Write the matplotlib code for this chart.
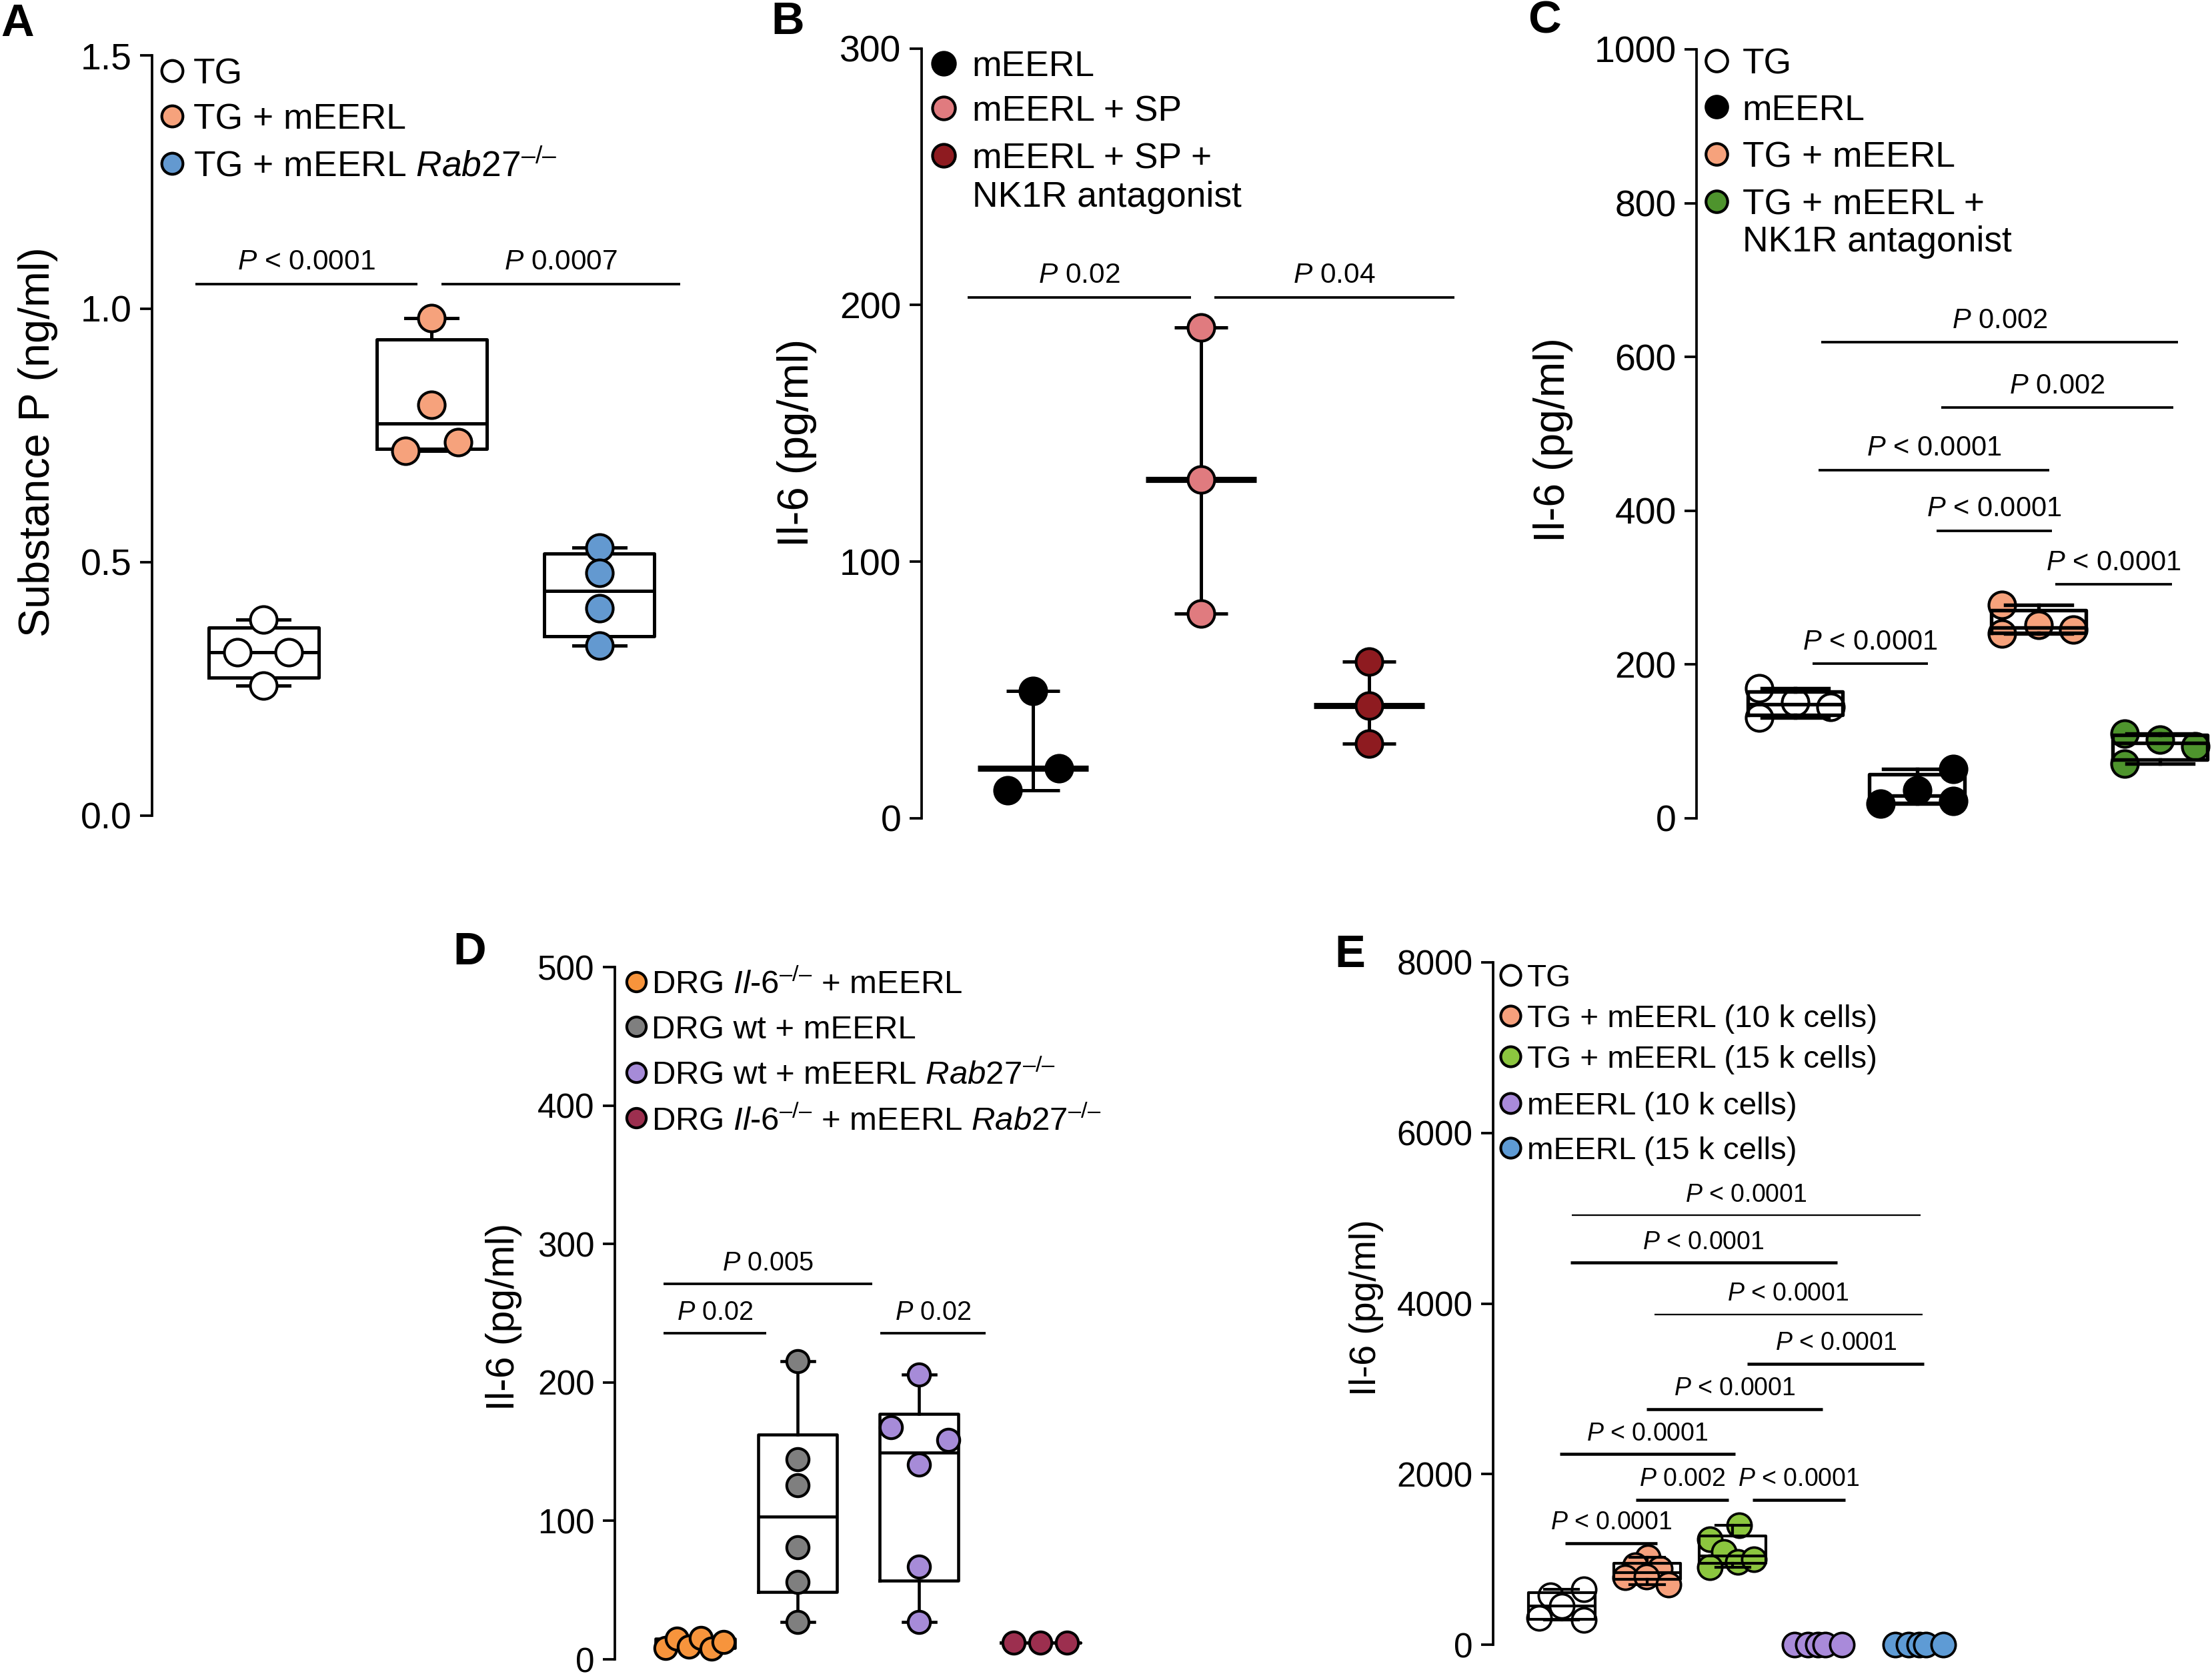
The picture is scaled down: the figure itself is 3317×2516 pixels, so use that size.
import matplotlib
matplotlib.use("Agg")
import matplotlib.pyplot as plt
import numpy as np

plt.rcParams["font.family"] = ["Liberation Sans", "DejaVu Sans"]
plt.rcParams["mathtext.fontset"] = "custom"
plt.rcParams["mathtext.rm"] = "Liberation Sans"
plt.rcParams["mathtext.it"] = "Liberation Sans:italic"
plt.rcParams["mathtext.bf"] = "Liberation Sans:bold"

W, H = 3317, 2516  # output size in pixels (dpi 300)
KO = "^{\u2013/\u2013}"  # knockout superscript

# ---------------- data ----------------
# A: substance P (ng/ml)
a_names = ["TG", "TG + mEERL", "TG + mEERL $\\it{Rab27}" + KO + "$"]
a_colors = ["white", "#F6A27C", "#6399D0"]
a_values = [
    [0.387, 0.322, 0.322, 0.256],
    [0.982, 0.810, 0.720, 0.736],
    [0.529, 0.478, 0.409, 0.335],
]

# B: Il-6 (pg/ml), median with range
b_names = ["mEERL", "mEERL + SP", "mEERL + SP +\nNK1R antagonist"]
b_colors = ["black", "#E07B7F", "#8E1B20"]
b_values = [
    [49.6, 19.4, 10.8],
    [191.2, 131.9, 79.7],
    [61.0, 43.8, 29.1],
]

# C: Il-6 (pg/ml)
c_names = ["TG", "mEERL", "TG + mEERL", "TG + mEERL +\nNK1R antagonist"]
c_colors = ["white", "black", "#F6A27C", "#4E942D"]
c_values = [
    [169, 151, 145, 131],
    [19, 36, 64, 22],
    [277, 251, 245, 240],
    [110, 102, 93, 71],
]

# D: Il-6 (pg/ml)
d_names = ["DRG $\\it{Il}$-$\\it{6}" + KO + "$ + mEERL", "DRG wt + mEERL",
           "DRG wt + mEERL $\\it{Rab27}" + KO + "$",
           "DRG $\\it{Il}$-$\\it{6}" + KO + "$ + mEERL $\\it{Rab27}" + KO + "$"]
d_colors = ["#F7943C", "#7F7F7F", "#A68BD8", "#9C2F4F"]
d_values = [
    [8.3, 14.7, 9.1, 15.5, 7.5, 12.3],
    [215.2, 144.6, 125.7, 80.9, 56.1, 26.9],
    [205.9, 167.7, 158.4, 140.5, 67.1, 26.9],
    [12, 12, 12],
]

# E: Il-6 (pg/ml)
e_names = ["TG", "TG + mEERL (10 k cells)", "TG + mEERL (15 k cells)",
           "mEERL (10 k cells)", "mEERL (15 k cells)"]
e_colors = ["white", "#F6A07C", "#8CC63F", "#A98ADA", "#5E9BD5"]
e_values = [
    [581, 646, 451, 313, 287],
    [1024, 933, 894, 790, 798, 704],
    [1402, 1233, 1089, 971, 998, 907],
    [0, 0, 0, 0, 0],
    [0, 0, 0, 0, 0],
]

# comparison bars: (x from, x to, height, label)
a_pvals = [(-0.407, 0.916, 1.049, "< 0.0001"), (1.059, 2.48, 1.049, "0.0007")]
b_pvals = [(-0.39, 0.94, 203, "0.02"), (1.08, 2.51, 203, "0.04")]
c_pvals = [(0.21, 3.15, 619, "0.002"), (1.20, 3.11, 534, "0.002"),
           (0.19, 2.09, 453, "< 0.0001"), (1.16, 2.11, 374, "< 0.0001"),
           (2.14, 3.10, 304, "< 0.0001"), (0.14, 1.09, 201, "< 0.0001")]
d_pvals = [(-0.103, 1.613, 271, "0.005"), (-0.103, 0.739, 235.5, "0.02"),
           (1.678, 2.548, 235.5, "0.02")]
e_pvals = [(0.117, 4.198, 5036, "< 0.0001"), (0.104, 3.219, 4480, "< 0.0001"),
           (1.084, 4.218, 3874, "< 0.0001"), (2.174, 4.237, 3295, "< 0.0001"),
           (0.993, 3.050, 2762, "< 0.0001"), (-0.019, 2.031, 2234, "< 0.0001"),
           (0.867, 1.95, 1700, "0.002"), (2.23, 3.32, 1700, "< 0.0001"),
           (0.045, 1.12, 1190, "< 0.0001")]
e_thin = [0, 2]  # bars drawn with a hairline in E


# ---------------- helpers ----------------
def axes_px(fig, x0, x1, ytop, ybot):
    return fig.add_axes([x0 / W, 1 - ybot / H, (x1 - x0) / W, (ybot - ytop) / H])


def style(ax, xlim, ymax, step, fmt, tick_fs, ylabel, label_fs, label_xy):
    ax.set_xlim(*xlim)
    ax.set_ylim(0, ymax)
    for s in ["top", "right", "bottom"]:
        ax.spines[s].set_visible(False)
    ax.spines["left"].set_linewidth(0.9)
    ax.set_xticks([])
    ticks = np.arange(0, ymax + step / 2, step)
    ax.set_yticks(ticks)
    ax.set_yticklabels([fmt.format(t) for t in ticks])
    ax.tick_params(axis="y", length=4.3, width=0.9, pad=3, labelsize=tick_fs)
    ax.set_ylabel(ylabel, fontsize=label_fs, va="center")
    ax.yaxis.set_label_coords(*label_xy)
    ax.patch.set_visible(False)


def boxes(ax, groups, pos, width, capw, lw, z):
    stats = []
    for v in groups:
        q1, med, q3 = np.percentile(v, [25, 50, 75], method="weibull")
        stats.append(dict(med=med, q1=q1, q3=q3, whislo=min(v), whishi=max(v), fliers=[]))
    line = dict(color="black", linewidth=lw)
    ax.bxp(stats, positions=pos, widths=width, capwidths=capw, showfliers=False,
           boxprops=line, whiskerprops=line, capprops=line, medianprops=line,
           manage_ticks=False, zorder=z)


def dots(ax, vals, pos, offs, color, ms, z=3, mew=1.0):
    x = pos + np.asarray(offs, dtype=float)
    ax.plot(x, vals, "o", ms=ms, mfc=color, mec="black", mew=mew, ls="none",
            zorder=z, clip_on=False)


def pbars(ax, bars, fs, lw=0.9, thin=()):
    for i, (x0, x1, y, txt) in enumerate(bars):
        ax.plot([x0, x1], [y, y], color="black", lw=0.55 if i in thin else lw,
                solid_capstyle="butt", clip_on=False)
        ax.annotate(r"$\it{P}$ " + txt, ((x0 + x1) / 2, y), xytext=(0, 3),
                    textcoords="offset points", ha="center", va="bottom", fontsize=fs)


def key(ax, names, colors, xm, xt, ys, ms, fs, line_dy=0.05):
    for name, color, y in zip(names, colors, ys):
        ax.plot([xm], [y], "o", transform=ax.transAxes, ms=ms, mfc=color,
                mec="black", mew=1.0, clip_on=False)
        for i, line in enumerate(name.split("\n")):
            ax.text(xt, y - i * line_dy, line, transform=ax.transAxes,
                    fontsize=fs, ha="left", va="center_baseline")


fig = plt.figure(figsize=(W / 300, H / 300), dpi=300)

# ---------------- A ----------------
ax = axes_px(fig, 228, 1050, 83, 1222.6)
style(ax, (-0.665, 2.6), 1.5, 0.5, "{:.1f}", 13.3, "Substance P (ng/ml)", 15.5, (-0.208, 0.491))
a_pos = [0, 1, 2]
a_offs = [[0, -0.157, 0.151, 0], [0, 0, -0.154, 0.157], [0, 0, 0, 0]]
boxes(ax, a_values, a_pos, 0.655, 0.31, 1.2, 2)
for v, p, o, c in zip(a_values, a_pos, a_offs, a_colors):
    dots(ax, v, p, o, c, 9.6)
pbars(ax, a_pvals, 10.2)
key(ax, a_names, a_colors, 0.0365, 0.075, [0.980, 0.920, 0.858], 7.6, 12.8)

# ---------------- B ----------------
ax = axes_px(fig, 1382, 2204, 72.7, 1226.7)
style(ax, (-0.664, 2.6), 300, 100, "{:.0f}", 13.3, "Il-6 (pg/ml)", 15.7, (-0.228, 0.488))
b_pos = [0, 1, 2]
b_offs = [[0, 0.155, -0.152], [0, 0, 0], [0, 0, 0]]
for v, p, o, c in zip(b_values, b_pos, b_offs, b_colors):
    med = np.median(v)
    ax.errorbar([p], [med], yerr=[[med - min(v)], [max(v) - med]], fmt="none",
                ecolor="black", elinewidth=1.2, capsize=9.7, capthick=1.2, zorder=2)
    ax.hlines(med, p - 0.33, p + 0.33, color="black", lw=2.2, zorder=2)
    dots(ax, v, p, o, c, 9.6)
pbars(ax, b_pvals, 10.2)
key(ax, b_names, b_colors, 0.040, 0.092, [0.981, 0.923, 0.861], 8.2, 12.8, line_dy=0.05)

# ---------------- C ----------------
ax = axes_px(fig, 2544, 3317, 74, 1226.7)
style(ax, (-0.815, 3.43), 1000, 200, "{:.0f}", 13.3, "Il-6 (pg/ml)", 15.4, (-0.278, 0.492))
c_pos = [0, 1, 2, 3]
c_offs = [[-0.30, 0, 0.29, -0.30], [-0.30, 0, 0.30, 0.30],
          [-0.30, 0, 0.29, -0.30], [-0.29, 0, 0.29, -0.29]]
for v, p, o, c in zip(c_values, c_pos, c_offs, c_colors):
    dots(ax, v, p, o, c, 9.6, z=2)
boxes(ax, c_values, c_pos, 0.78, 0.55, 1.3, 3)
pbars(ax, c_pvals, 10)
key(ax, c_names, c_colors, 0.039, 0.089, [0.985, 0.925, 0.864, 0.802], 7.8, 12.8, line_dy=0.048)

# ---------------- D ----------------
ax = axes_px(fig, 922, 1706, 1450, 2488)
style(ax, (-0.506, 3.8), 500, 100, "{:.0f}", 12.3, "Il-6 (pg/ml)", 14.1, (-0.213, 0.495))
d_pos = [0.155, 1, 2, 3]
d_offs = [[-0.245, -0.15, -0.05, 0.05, 0.135, 0.235], [0, 0, 0, 0, 0, 0],
          [0, -0.234, 0.238, 0, 0, 0], [-0.22, 0, 0.22]]
boxes(ax, d_values, d_pos, 0.65, 0.27, 1.1, 2)
for v, p, o, c in zip(d_values, d_pos, d_offs, d_colors):
    dots(ax, v, p, o, c, 8.0)
pbars(ax, d_pvals, 9.5)
key(ax, d_names, d_colors, 0.041, 0.070, [0.979, 0.914, 0.848, 0.782], 7.0, 11.8)

# ---------------- E ----------------
ax = axes_px(fig, 2239, 2983, 1443, 2466)
style(ax, (-0.80, 5.0), 8000, 2000, "{:.0f}", 12.3, "Il-6 (pg/ml)", 13.3, (-0.256, 0.494))
e_pos = [0, 1, 2, 3, 4.18]
e_offs = [[-0.13, 0.26, 0, -0.26, 0.26], [0.01, -0.14, 0.15, -0.26, -0.01, 0.25],
          [0.08, -0.27, -0.10, 0.06, 0.25, -0.27], [-0.28, -0.12, 0, 0.08, 0.28],
          [-0.28, -0.12, 0, 0.08, 0.28]]
for v, p, o, c in zip(e_values, e_pos, e_offs, e_colors):
    dots(ax, v, p, o, c, 8.7, z=2, mew=0.9)
boxes(ax, e_values[:3], e_pos[:3], 0.78, 0.4, 1.0, 3)
pbars(ax, e_pvals, 9, lw=1.1, thin=e_thin)
key(ax, e_names, e_colors, 0.035, 0.0685, [0.981, 0.922, 0.862, 0.794, 0.728], 7.2, 11.4)

# panel letters
for letter, x, y in [("A", 26, 36), ("B", 1181, 33), ("C", 2316, 31),
                     ("D", 704, 1428), ("E", 2024, 1432)]:
    fig.text(x / W, 1 - y / H, letter, fontsize=16.5, fontweight="bold",
             ha="center", va="center")

fig.savefig("out.png", dpi=300)
